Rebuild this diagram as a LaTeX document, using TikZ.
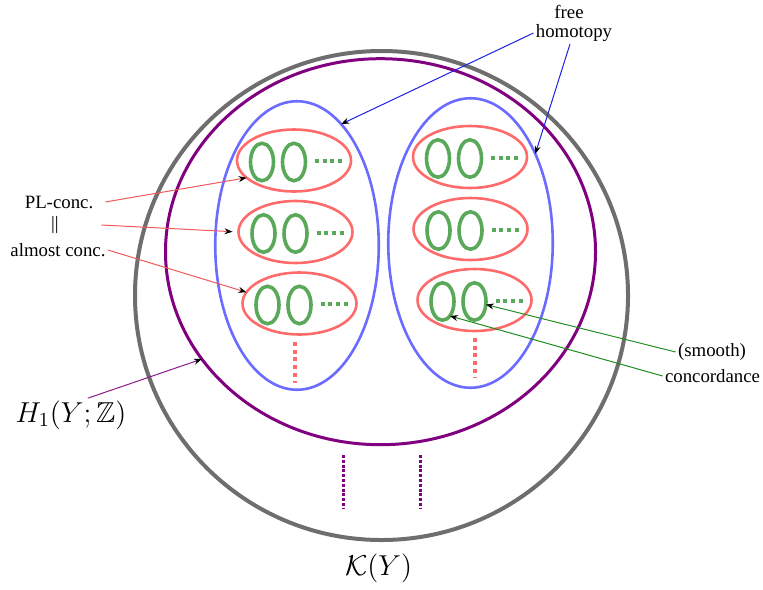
\documentclass[tikz,border=0pt]{standalone}
\usepackage{amsmath,amssymb}
\usepackage{fontspec}
\setmainfont{Liberation Serif}
\usepackage{tikz}
\usetikzlibrary{arrows.meta,positioning,calc,shapes.geometric}
\definecolor{cK}{HTML}{6E6E6E}
\definecolor{cH}{HTML}{800080}
\definecolor{cB}{HTML}{6B6BFF}
\definecolor{cR}{HTML}{FF6B6B}
\definecolor{cG}{HTML}{5AA85A}
\definecolor{cBa}{HTML}{1F1FE6}
\definecolor{cRa}{HTML}{F05A5A}
\definecolor{cGa}{HTML}{1E8C1E}
\definecolor{cHa}{HTML}{8A1A8A}
\tikzset{
  oval/.style={ellipse,draw,inner sep=0pt,outer sep=0pt},
  knot/.style={oval,cG,line width=1.8pt,minimum width=11.5pt,minimum height=18.75pt},
  conc/.style={oval,cR,line width=1.3pt,minimum width=57pt,minimum height=31pt},
  homo/.style={oval,cB,line width=1.3pt},
  sqdots/.style={line width=2pt,dash pattern=on 2pt off 1.85pt},
  lbl/.style={font=\fontsize{9.4}{12}\selectfont,inner sep=1pt},
  mlbl/.style={font=\fontsize{14.4}{17}\selectfont,inner sep=1pt},
  ptr/.style={-{Stealth[length=4pt,width=3pt,black]},line width=0.5pt},
}

\begin{document}
\begin{tikzpicture}[x=0.5pt,y=-0.5pt]
  \useasboundingbox (0,0) rectangle (763,589);
  % the big sets
  \node[oval,cK,line width=2pt,minimum width=246.5pt,minimum height=244.5pt] (ky) at (381.5,295.5) {};
  \node[oval,cH,line width=1.5pt,minimum width=215pt,minimum height=193pt] (hy) at (380.5,251.7) {};
  \node[homo,minimum width=81.75pt,minimum height=144.25pt] (b1) at (297,245.5) {};
  \node[homo,minimum width=82.25pt,minimum height=144.75pt] (b2) at (470.5,243) {};
  % concordance classes, two knots and dots in each
  \foreach \n/\x/\y in {11/294/160.5,12/295.5/232,13/299.5/303.5,21/470/157,22/470.5/229,23/474.5/300}{
    \node[conc] (r\n) at (\x,\y) {};
    \node[knot] (ga\n) at ($(r\n)+(-32,1.5)$) {};
    \node[knot] (gb\n) at ($(r\n)+(0,1.5)$) {};
    \draw[sqdots,cG] ($(r\n)+(21,0.5)$) -- ($(r\n)+(48,0.5)$);
  }
  \draw[sqdots,cR] (295,342) -- (295,383);
  \draw[sqdots,cR] (475,338) -- (475,378);
  \draw[cH,line width=1.5pt,dash pattern=on 1.5pt off 0.9pt] (343,455) -- (343,509);
  \draw[cH,line width=1.5pt,dash pattern=on 1.5pt off 0.9pt] (420,455) -- (420,509);

  \node[lbl] (fr) at (569,12) {free};
  \node[lbl] (hom) at (574,33) {homotopy};
  \node[lbl,minimum width=46pt] (plc) at (59,202) {PL-conc.};
  \node[lbl,minimum width=46pt] (eqs) at (55,225) {||};
  \node[lbl,minimum width=46pt] (alc) at (58,250) {almost conc.};
  \node[lbl] (smo) at (712,352) {(smooth)};
  \node[lbl] (con) at (712.5,376) {concordance};
  \node[mlbl] (h1) at (71,415) {$H_1(Y;\mathbb{Z})$};
  \node[mlbl] (kl) at (378.5,568) {$\mathcal{K}(Y)$};

  \draw[ptr,cBa] (hom.west) -- (b1.70);
  \draw[ptr,cBa] (hom.-110) -- (b2.54);
  \draw[ptr,cRa] (plc.east) -- (r11.200);
  \draw[ptr,cRa,shorten >=3pt] (eqs.east) -- (r12.west);
  \draw[ptr,cRa] (alc.east) -- (r13.168);
  \draw[ptr,cGa] (smo.west) -- (gb23.-15);
  \draw[ptr,cGa] (con.west) -- (ga23.-63);
  \draw[ptr,cHa] (h1.45) -- (hy.211);
\end{tikzpicture}
\end{document}
